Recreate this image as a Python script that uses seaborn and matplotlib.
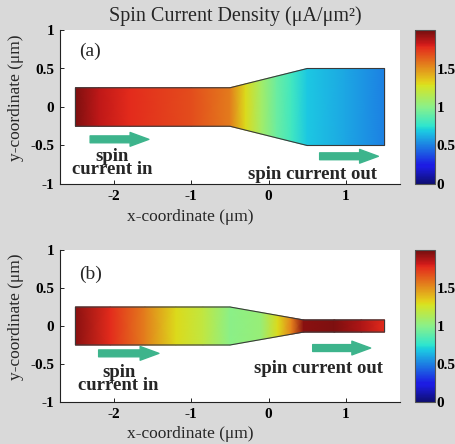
import numpy as np
import matplotlib
matplotlib.use("Agg")
import matplotlib.pyplot as plt
from matplotlib.colors import ListedColormap
from matplotlib.ticker import FuncFormatter
import seaborn as sns

sns.set_style("white")
plt.rcParams["font.family"] = ["Liberation Serif", "DejaVu Serif"]

# Spin current density along the device axis (μA/μm²)
x_a = [-2.5, -2.2, -1.8, -1.0, -0.5, -0.3, -0.1, 0.1, 0.3, 0.5, 1.0, 1.5]
j_a = [1.97, 1.85, 1.78, 1.68, 1.56, 1.3, 1.1, 0.92, 0.8, 0.68, 0.6, 0.5]

x_b = [-2.5, -2.05, -1.6, -1.2, -0.85, -0.5, -0.1, 0.12, 0.3, 0.45, 0.85, 1.2, 1.5]
j_b = [1.95, 1.78, 1.55, 1.3, 1.2, 1.0, 1.05, 1.3, 1.55, 1.95, 1.97, 1.88, 1.78]

# Device outlines: corner x positions and half-widths (μm)
edge_xa = [-2.5, -0.5, 0.5, 1.5]
edge_wa = [0.25, 0.25, 0.5, 0.5]
edge_xb = [-2.5, -0.5, 0.45, 1.5]
edge_wb = [0.25, 0.25, 0.08, 0.08]

x_ticks = [-2, -1, 0, 1]
y_ticks = [-1, -0.5, 0, 0.5, 1]
cbar_ticks = [0, 0.5, 1, 1.5]

panels = [
    dict(tag="(a)", x=x_a, j=j_a, ex=edge_xa, ew=edge_wa,
         arrows=[((-2.31, -0.42), (-1.55, -0.42)), ((0.66, -0.64), (1.42, -0.64))],
         cin=(-2.03, -0.73), cout=(0.57, -0.935), tag_y=0.72),
    dict(tag="(b)", x=x_b, j=j_b, ex=edge_xb, ew=edge_wb,
         arrows=[((-2.2, -0.36), (-1.42, -0.36)), ((0.57, -0.29), (1.32, -0.29))],
         cin=(-1.94, -0.70), cout=(0.64, -0.62), tag_y=0.68),
]

W, H = 455, 444
bg = "#d9d9d9"
fig = plt.figure(figsize=(W / 100, H / 100), dpi=100, facecolor=bg)
jet = matplotlib.colormaps["jet"]
cmap = ListedColormap([sns.desaturate(c, 0.78) for c in jet(np.linspace(0, 1, 256))])
arrow_color = "#3db48c"
fmt = FuncFormatter(lambda v, _: f"{v:g}")

ax_rects = [[60 / W, 1 - 184 / H, 340 / W, 154 / H],
            [60 / W, 1 - 402 / H, 340 / W, 152 / H]]
cb_rects = [[415 / W, 1 - 184 / H, 20 / W, 154 / H],
            [415 / W, 1 - 402 / H, 20 / W, 152 / H]]

for p, r, cr in zip(panels, ax_rects, cb_rects):
    ax = fig.add_axes(r)
    ax.set_facecolor("white")
    x = np.asarray(p["x"], float)
    w = np.interp(x, p["ex"], p["ew"])
    X = np.vstack([x, x])
    Y = np.vstack([-w, w])
    C = np.vstack([p["j"], p["j"]])
    mesh = ax.pcolormesh(X, Y, C, shading="gouraud", cmap=cmap, vmin=0, vmax=2)
    ox = list(p["ex"]) + list(p["ex"])[::-1]
    oy = list(p["ew"]) + [-v for v in p["ew"]][::-1]
    ax.fill(ox, oy, facecolor="none", edgecolor="#3a3a3a", lw=0.8)

    for (s, e) in p["arrows"]:
        ax.annotate("", xy=e, xytext=s,
                    arrowprops=dict(arrowstyle="simple,head_width=1.1,head_length=1.5,tail_width=0.55",
                                    color=arrow_color, mutation_scale=9, shrinkA=0, shrinkB=0))
    ax.text(*p["cin"], "spin\ncurrent in", ha="center", va="center", multialignment="center",
            fontweight="bold", fontsize=13.5, linespacing=0.68)
    ax.text(*p["cout"], "spin current out", ha="center", va="baseline",
            fontweight="bold", fontsize=13.5)
    ax.text(-2.31, p["tag_y"], p["tag"], ha="center", va="center", fontsize=14)

    ax.set_xlim(-2.7, 1.7)
    ax.set_ylim(-1, 1)
    ax.set_xticks(x_ticks)
    ax.set_yticks(y_ticks)
    ax.xaxis.set_major_formatter(fmt)
    ax.yaxis.set_major_formatter(fmt)
    sns.despine(ax=ax)
    for s in ("left", "bottom"):
        ax.spines[s].set_color("#222222")
        ax.spines[s].set_linewidth(0.8)
    ax.tick_params(direction="in", length=3, width=0.7, labelsize=11, pad=4,
                   left=True, bottom=True, colors="#222222", labelcolor="black")
    for lab in ax.get_xticklabels() + ax.get_yticklabels():
        lab.set_fontweight("bold")
    ax.set_xlabel("x-coordinate (μm)", fontsize=12.5)
    ax.set_ylabel("y-coordinate (μm)", fontsize=12.5)
    ax.xaxis.set_label_coords(0.382, -0.16)
    ax.yaxis.set_label_coords(-0.105, 0.56)

    cax = fig.add_axes(cr)
    cb = fig.colorbar(mesh, cax=cax, ticks=cbar_ticks)
    cb.outline.set_edgecolor("#555555")
    cb.outline.set_linewidth(0.8)
    cax.yaxis.set_major_formatter(fmt)
    cax.tick_params(direction="in", length=3, width=0.7, left=True, right=True,
                    labelsize=11, pad=1, colors="#444444", labelcolor="black")
    for lab in cax.get_yticklabels():
        lab.set_fontweight("bold")

fig.text(235 / W, 1 - 16 / H, "Spin Current Density (μA/μm²)",
         ha="center", va="center", fontsize=14.5)

fig.savefig("out.png", dpi=100, facecolor=bg)
